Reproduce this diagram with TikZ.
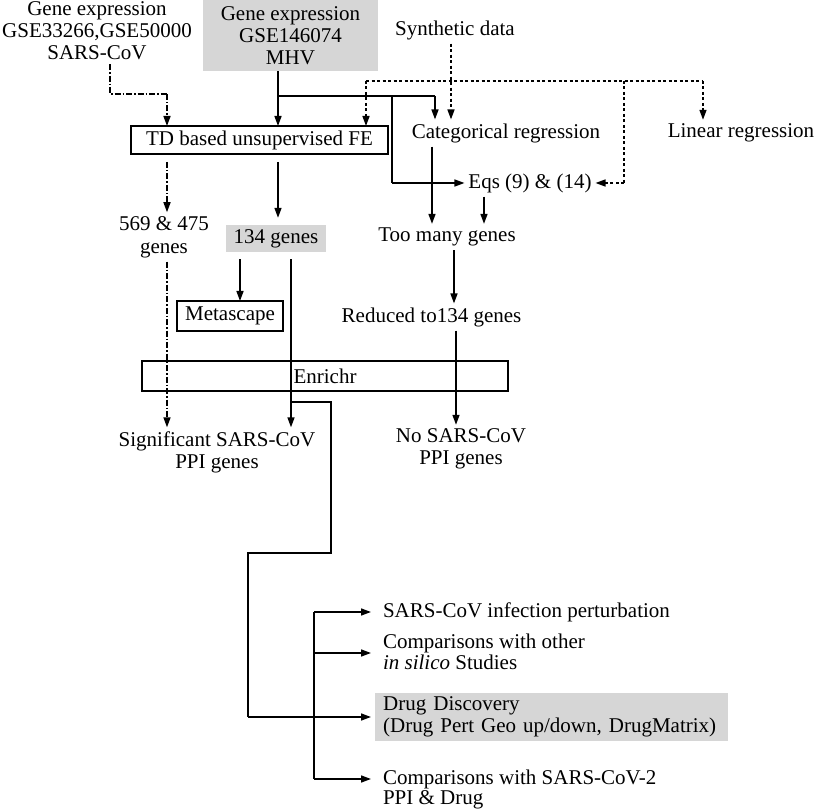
\documentclass[tikz,border=0pt]{standalone}
\usepackage{fontspec}
\setmainfont{Liberation Serif}
\usetikzlibrary{arrows.meta}
\definecolor{boxgray}{RGB}{214,214,214}
\begin{document}
\begin{tikzpicture}[x=1pt,y=-1pt,
  font=\fontsize{21}{22}\selectfont,
  txt/.style={inner sep=0pt, outer sep=4pt, align=center},
  ltxt/.style={inner sep=0pt, outer sep=0pt, align=left, anchor=west},
  frame/.style={draw, line width=1.5pt, inner sep=0pt, outer sep=0pt},
  graybox/.style={fill=boxgray, inner sep=0pt, align=center},
  arr/.style={line width=1.5pt, -{Triangle[length=10pt,width=7pt]}},
  ln/.style={line width=1.5pt},
  dd/.style={line width=1.5pt, dash pattern=on 6pt off 2pt on 1.5pt off 2pt},
  dt/.style={line width=1.5pt, dash pattern=on 3pt off 2.5pt}]
\useasboundingbox (0,0) rectangle (815,810);

% nodes
\node[txt] (gex1) at (97,31) {Gene expression\\GSE33266,GSE50000\\SARS-CoV};
\node[graybox, minimum width=175pt, minimum height=71pt] (gex2) at (290.5,35.5) {Gene expression\\GSE146074\\MHV};
\node[txt] (synth) at (455,30) {Synthetic data};
\node[frame, minimum width=257pt, minimum height=28pt] (td) at (259.5,140) {TD based unsupervised FE};
\node[txt] (catreg) at (506,133) {Categorical regression};
\node[txt] (linreg) at (741,133) {Linear regression};
\node[txt] (eqs) at (530,183) {Eqs (9) \& (14)};
\node[txt, font=\fontsize{21}{23}\selectfont] (n569) at (164,237) {569 \& 475\\genes};
\node[graybox, minimum width=100pt, minimum height=27pt] (g134) at (276,238.5) {134 genes};
\node[txt] (toomany) at (447,237) {Too many genes};
\node[frame, minimum width=106pt, minimum height=30pt] (meta) at (230,316) {Metascape};
\node[txt] (reduced) at (431.5,317) {Reduced to134 genes};
\node[frame, minimum width=366pt, minimum height=30pt] (enrichr) at (325,376) {Enrichr};
\node[txt] (signif) at (217,452) {Significant SARS-CoV\\PPI genes};
\node[txt] (nosars) at (461,449) {No SARS-CoV\\PPI genes};
\node[ltxt] (sars) at (383,612) {SARS-CoV infection perturbation};
\node[ltxt, font=\fontsize{21}{21}\selectfont] (comp) at (383,652) {Comparisons with other\\\textit{in silico} Studies};
\node[graybox, anchor=west, align=left, minimum width=353pt, minimum height=48pt, text width=337pt, inner xsep=8pt] (drug) at (375,717) {Drug Discovery\\(Drug Pert Geo up/down, DrugMatrix)};
\node[ltxt, font=\fontsize{21}{20}\selectfont] (comp2) at (383,789) {Comparisons with SARS-CoV-2\\PPI \& Drug};

% helper coordinates
\coordinate (k1) at (110,94);
\coordinate (k2) at (167,94);
\coordinate (m1) at (278,96);
\coordinate (m2) at (435,96);
\coordinate (m3) at (392,96);
\coordinate (m4) at (392,183);
\coordinate (s1) at (366,81);
\coordinate (s2) at (703,81);
\coordinate (s3) at (624,81);
\coordinate (s4) at (624,183);
\coordinate (sx) at (451,0);
\coordinate (c1) at (432,0);
\coordinate (c2) at (484,0);
\coordinate (t1) at (167,0);
\coordinate (t2) at (278,0);
\coordinate (g1) at (240,0);
\coordinate (g2) at (291,0);
\coordinate (b1) at (291,402);
\coordinate (b2) at (331,402);
\coordinate (b3) at (331,553);
\coordinate (b4) at (248,553);
\coordinate (b5) at (248,717);
\coordinate (r1) at (454,0);
\coordinate (r2) at (456,0);
\coordinate (bus1) at (314,612);
\coordinate (bus2) at (314,653);
\coordinate (bus3) at (314,779);

% dash-dot from first gene expression
\draw[dd] (k1 |- gex1.south) -- (k1) -- (k2);
\draw[dd,-{Triangle[length=10pt,width=7pt]}] (k2) -- (k2 |- td.north);

% solid from MHV
\draw[arr] (m1 |- gex2.south) -- (m1 |- td.north);
\draw[ln] (m1) -- (m2);
\draw[arr] (m2) -- (m2 |- catreg.north);
\draw[ln] (m3) -- (m4);
\draw[arr] (m4) -- (eqs.west);

% dotted from synthetic data
\draw[dt,-{Triangle[length=10pt,width=7pt]}] (sx |- synth.south) -- (sx |- catreg.north);
\draw[dt] (s1) -- (s2);
\draw[dt,-{Triangle[length=10pt,width=7pt]}] (s1) -- (s1 |- td.north);
\draw[dt,-{Triangle[length=10pt,width=7pt]}] (s2) -- (s2 |- linreg.north);
\draw[dt] (s3) -- (s4);
\draw[dt,-{Triangle[length=10pt,width=7pt]}] (s4) -- (eqs.east);

% to too many genes
\draw[arr] (c1 |- catreg.south) -- (c1 |- toomany.north);
\draw[arr] (c2 |- eqs.south) -- (c2 |- toomany.north);

% from TD
\draw[dd,-{Triangle[length=10pt,width=7pt]}] ([yshift=-8pt]t1 |- td.south) -- (t1 |- n569.north);
\draw[arr] ([yshift=-8pt]t2 |- td.south) -- ([yshift=7pt]t2 |- g134.north);

% from 134 genes
\draw[arr] ([yshift=-7pt]g1 |- g134.south) -- (g1 |- meta.north);
\draw[arr] ([yshift=-7pt]g2 |- g134.south) -- (g2 |- signif.north);
\draw[ln] (b1) -- (b2) -- (b3) -- (b4) -- (b5);
\draw[arr] (b5) -- ([xshift=-4pt]drug.west);

% dash-dot 569 to significant
\draw[dd,-{Triangle[length=10pt,width=7pt]}] (t1 |- n569.south) -- (t1 |- signif.north);

% too many -> reduced -> no sars
\draw[arr] (r1 |- toomany.south) -- (r1 |- reduced.north);
\draw[arr] (r2 |- reduced.south) -- (r2 |- nosars.north);

% bus
\draw[ln] (bus1) -- (bus3);
\draw[arr] (bus1) -- ([xshift=-12pt]sars.west);
\draw[arr] (bus2) -- ([xshift=-12pt]bus2 -| comp.west);
\draw[arr] (bus3) -- ([xshift=-12pt]bus3 -| comp2.west);
\end{tikzpicture}
\end{document}
